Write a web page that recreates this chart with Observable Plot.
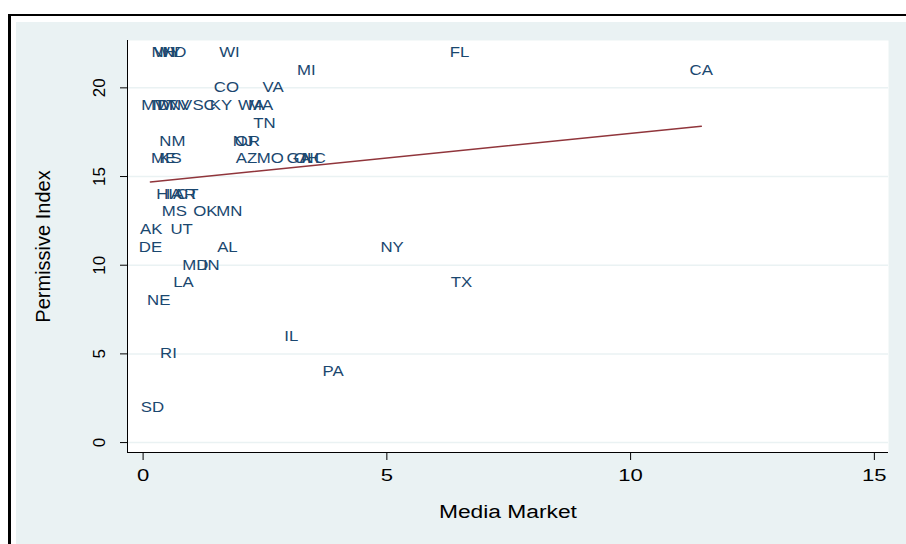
<!DOCTYPE html>
<html>
<head>
<meta charset="utf-8">
<script src="https://cdn.jsdelivr.net/npm/d3@7"></script>
<script src="https://cdn.jsdelivr.net/npm/@observablehq/plot@0.6"></script>
<style>
  body { margin: 0; background: #fff; }
  #wrap { position: relative; width: 906px; height: 544px; overflow: hidden; }
  #border { position: absolute; left: 8px; top: 14px; width: 1000px; height: 1000px; border-style: solid; border-color: #000; border-width: 2px 0 0 3px; }
  #region { position: absolute; left: 16px; top: 22px; width: 1000px; height: 1000px; background: #eaf2f3; }
  #chart { position: absolute; left: 0; top: 0; }
</style>
</head>
<body>
<div id="wrap">
  <div id="border"></div>
  <div id="region"></div>
  <div id="chart"></div>
</div>
<script>
const states = ["NH","WY","ND","WI","FL","MI","CA","CO","VA","MT","ID","VT","WV","NV","SC","KY","WA","MA","TN","NM","NJ","OR","ME","KS","AZ","MO","GA","OH","NC","HI","IA","AR","CT","MS","OK","MN","AK","UT","DE","AL","NY","MD","IN","LA","TX","NE","IL","RI","PA","SD"];
const mediaMarket = [0.42,0.50,0.64,1.77,6.49,3.35,11.45,1.71,2.67,0.21,0.36,0.46,0.67,0.77,1.25,1.60,2.22,2.41,2.49,0.60,2.05,2.14,0.42,0.56,2.12,2.61,3.19,3.35,3.50,0.44,0.63,0.85,0.91,0.64,1.28,1.77,0.17,0.79,0.15,1.73,5.11,1.07,1.40,0.83,6.53,0.32,3.04,0.52,3.90,0.19];
const permissiveIndex = [22,22,22,22,22,21,21,20,20,19,19,19,19,19,19,19,19,19,18,17,17,17,16,16,16,16,16,16,16,14,14,14,14,13,13,13,12,12,11,11,11,10,10,9,9,8,6,5,4,2];
const xTicks = [0, 5, 10, 15];
const yTicks = [0, 5, 10, 15, 20];
const xTitle = "Media Market";
const yTitle = "Permissive Index";

const data = states.map((s, i) => ({state: s, x: mediaMarket[i], y: permissiveIndex[i]}));
const xDomain = [-0.32, 15.29];
const yDomain = [-0.56, 22.67];

const font = "'Liberation Sans', Arial, Helvetica, sans-serif";
const chart = Plot.plot({
  width: 906,
  height: 544,
  marginLeft: 127,
  marginRight: 18,
  marginTop: 40,
  marginBottom: 92,
  style: {background: "transparent", fontFamily: font, fontSize: "14px", color: "#000"},
  x: {domain: xDomain, ticks: xTicks, tickSize: 8, tickFormat: () => "", label: null},
  y: {domain: yDomain, ticks: yTicks, tickSize: 7, tickFormat: () => "", label: null},
  marks: [
    Plot.frame({fill: "white", stroke: "none"}),
    Plot.ruleY(yTicks, {stroke: "#eaf2f3", strokeWidth: 1.5}),
    Plot.ruleX([xDomain[0]], {stroke: "#000", strokeWidth: 1}),
    Plot.ruleY([yDomain[0]], {stroke: "#000", strokeWidth: 1}),
    Plot.linearRegressionY(data, {x: "x", y: "y", stroke: "#90353b", strokeWidth: 1.5, ci: 0}),
    Plot.text(data, {x: "x", y: "y", text: "state", fill: "#1a476f", fontSize: 14}),
    Plot.text(xTicks, {x: d => d, frameAnchor: "bottom", lineAnchor: "middle", dy: 23, text: d => String(d), fontSize: 17, fill: "#000"}),
    Plot.text(yTicks, {y: d => d, frameAnchor: "left", textAnchor: "middle", lineAnchor: "middle", dx: -28, rotate: -90, text: d => String(d), fontSize: 17, fill: "#000"}),
    Plot.text([xTitle], {frameAnchor: "bottom", lineAnchor: "middle", dy: 59, text: d => d, fontSize: 19, fill: "#000"}),
    Plot.text([yTitle], {frameAnchor: "left", textAnchor: "middle", lineAnchor: "middle", dx: -84, rotate: -90, text: d => d, fontSize: 20, fill: "#000"})
  ]
});
document.getElementById("chart").appendChild(chart);

// Widen glyphs horizontally about each label's centre (the reference text is stretched).
function stretch(group, s) {
  if (!group) return;
  group.querySelectorAll("text").forEach(el => {
    let bb;
    try { bb = el.getBBox(); } catch (e) { return; }
    const cx = bb.x + bb.width / 2;
    const t = el.getAttribute("transform") || "";
    el.setAttribute("transform", `${t} translate(${cx},0) scale(${s},1) translate(${-cx},0)`.trim());
  });
}
const textGroups = chart.querySelectorAll('g[aria-label="text"]');
stretch(textGroups[0], 1.2);   // state labels
stretch(textGroups[1], 1.3);   // x tick labels
stretch(textGroups[3], 1.2);   // x title
</script>
</body>
</html>
